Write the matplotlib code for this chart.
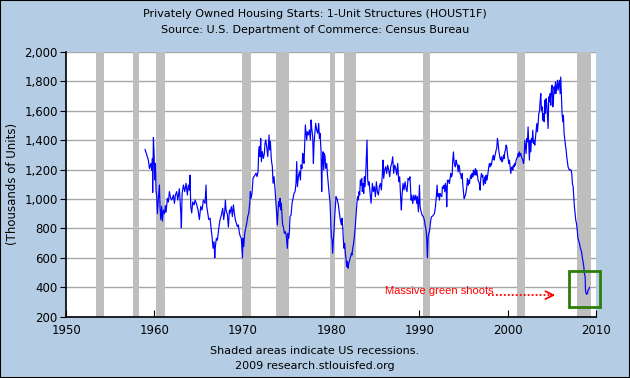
import numpy as np
import matplotlib
matplotlib.use("Agg")
import matplotlib.pyplot as plt
from matplotlib.patches import Rectangle

# decimal years and housing starts (thousands of units)
years = [
    1958.94, 1959.13, 1959.31, 1959.43, 1959.58, 1959.69, 1959.77, 1959.80, 1959.88, 1959.96,
    1960.03, 1960.11, 1960.18, 1960.26, 1960.33, 1960.45, 1960.56, 1960.63, 1960.71, 1960.82,
    1960.90, 1961.01, 1961.13, 1961.24, 1961.31, 1961.47, 1961.58, 1961.69, 1961.84, 1961.96,
    1962.15, 1962.26, 1962.37, 1962.52, 1962.64, 1962.82, 1962.98, 1963.05, 1963.13, 1963.28,
    1963.43, 1963.58, 1963.73, 1963.84, 1963.96, 1964.03, 1964.11, 1964.22, 1964.33, 1964.49,
    1964.60, 1964.79, 1964.94, 1965.09, 1965.24, 1965.39, 1965.54, 1965.73, 1965.84, 1965.92,
    1966.03, 1966.15, 1966.30, 1966.41, 1966.52, 1966.64, 1966.75, 1966.83, 1966.90, 1967.01,
    1967.13, 1967.28, 1967.43, 1967.58, 1967.73, 1967.84, 1967.96, 1968.03, 1968.11, 1968.26,
    1968.37, 1968.49, 1968.56, 1968.71, 1968.82, 1968.94, 1969.05, 1969.16, 1969.28, 1969.39,
    1969.50, 1969.62, 1969.73, 1969.84, 1969.96, 1970.03, 1970.11, 1970.22, 1970.33, 1970.45,
    1970.56, 1970.67, 1970.79, 1970.86, 1970.94, 1971.05, 1971.16, 1971.28, 1971.39, 1971.50,
    1971.62, 1971.73, 1971.81, 1971.88, 1971.96, 1972.03, 1972.11, 1972.22, 1972.34, 1972.45,
    1972.52, 1972.60, 1972.71, 1972.83, 1972.90, 1972.98, 1973.05, 1973.13, 1973.24, 1973.35,
    1973.43, 1973.54, 1973.66, 1973.77, 1973.85, 1973.92, 1974.00, 1974.07, 1974.15, 1974.22,
    1974.30, 1974.37, 1974.45, 1974.52, 1974.60, 1974.71, 1974.83, 1974.94, 1975.05, 1975.13,
    1975.20, 1975.28, 1975.35, 1975.47, 1975.58, 1975.69, 1975.81, 1975.92, 1976.03, 1976.11,
    1976.19, 1976.30, 1976.41, 1976.53, 1976.60, 1976.71, 1976.79, 1976.87, 1976.94, 1977.02,
    1977.09, 1977.17, 1977.24, 1977.32, 1977.43, 1977.54, 1977.66, 1977.73, 1977.81, 1977.92,
    1978.00, 1978.07, 1978.19, 1978.26, 1978.37, 1978.49, 1978.60, 1978.68, 1978.75, 1978.86,
    1978.94, 1979.01, 1979.09, 1979.17, 1979.24, 1979.32, 1979.39, 1979.51, 1979.58, 1979.69,
    1979.81, 1979.88, 1979.96, 1980.03, 1980.11, 1980.18, 1980.26, 1980.34, 1980.41, 1980.49,
    1980.56, 1980.64, 1980.71, 1980.83, 1980.94, 1981.05, 1981.17, 1981.24, 1981.32, 1981.39,
    1981.47, 1981.54, 1981.62, 1981.69, 1981.77, 1981.85, 1981.92, 1982.00, 1982.07, 1982.15,
    1982.22, 1982.30, 1982.37, 1982.45, 1982.53, 1982.64, 1982.71, 1982.79, 1982.86, 1982.94,
    1983.02, 1983.09, 1983.17, 1983.24, 1983.32, 1983.39, 1983.47, 1983.54, 1983.62, 1983.70,
    1983.77, 1983.85, 1983.92, 1984.00, 1984.07, 1984.15, 1984.22, 1984.30, 1984.41, 1984.53,
    1984.60, 1984.68, 1984.79, 1984.90, 1985.02, 1985.13, 1985.24, 1985.36, 1985.47, 1985.58,
    1985.70, 1985.81, 1985.88, 1985.96, 1986.07, 1986.19, 1986.30, 1986.41, 1986.53, 1986.64,
    1986.75, 1986.87, 1986.98, 1987.09, 1987.21, 1987.32, 1987.43, 1987.55, 1987.66, 1987.77,
    1987.89, 1987.96, 1988.04, 1988.15, 1988.26, 1988.38, 1988.49, 1988.60, 1988.72, 1988.83,
    1988.94, 1989.06, 1989.14, 1989.25, 1989.37, 1989.48, 1989.59, 1989.71, 1989.78, 1989.89,
    1990.01, 1990.08, 1990.20, 1990.31, 1990.46, 1990.57, 1990.65, 1990.76, 1990.84, 1990.91,
    1990.99, 1991.06, 1991.14, 1991.22, 1991.29, 1991.37, 1991.48, 1991.59, 1991.71, 1991.82,
    1991.93, 1992.01, 1992.08, 1992.20, 1992.27, 1992.35, 1992.42, 1992.54, 1992.61, 1992.73,
    1992.80, 1992.88, 1992.95, 1993.03, 1993.10, 1993.18, 1993.25, 1993.33, 1993.40, 1993.48,
    1993.56, 1993.63, 1993.71, 1993.78, 1993.86, 1993.93, 1994.01, 1994.08, 1994.16, 1994.24,
    1994.31, 1994.39, 1994.46, 1994.54, 1994.61, 1994.69, 1994.76, 1994.84, 1994.91, 1994.99,
    1995.07, 1995.14, 1995.22, 1995.29, 1995.37, 1995.44, 1995.52, 1995.59, 1995.67, 1995.74,
    1995.82, 1995.90, 1995.97, 1996.05, 1996.12, 1996.20, 1996.27, 1996.35, 1996.42, 1996.50,
    1996.58, 1996.65, 1996.73, 1996.80, 1996.88, 1996.95, 1997.03, 1997.10, 1997.18, 1997.26,
    1997.33, 1997.41, 1997.48, 1997.56, 1997.63, 1997.71, 1997.78, 1997.86, 1997.93, 1998.01,
    1998.09, 1998.16, 1998.24, 1998.31, 1998.39, 1998.46, 1998.54, 1998.61, 1998.69, 1998.76,
    1998.84, 1998.92, 1998.99, 1999.07, 1999.14, 1999.22, 1999.29, 1999.37, 1999.44, 1999.52,
    1999.60, 1999.67, 1999.75, 1999.82, 1999.90, 1999.97, 2000.05, 2000.12, 2000.20, 2000.27,
    2000.35, 2000.43, 2000.50, 2000.58, 2000.65, 2000.73, 2000.80, 2000.88, 2000.95, 2001.03,
    2001.11, 2001.18, 2001.26, 2001.33, 2001.41, 2001.48, 2001.56, 2001.63, 2001.71, 2001.79,
    2001.86, 2001.94, 2002.01, 2002.09, 2002.16, 2002.24, 2002.31, 2002.39, 2002.46, 2002.54,
    2002.62, 2002.69, 2002.77, 2002.84, 2002.92, 2002.99, 2003.07, 2003.14, 2003.22, 2003.30,
    2003.37, 2003.45, 2003.52, 2003.60, 2003.67, 2003.75, 2003.82, 2003.90, 2003.97, 2004.05,
    2004.13, 2004.20, 2004.28, 2004.35, 2004.43, 2004.50, 2004.58, 2004.65, 2004.73, 2004.81,
    2004.88, 2004.96, 2005.03, 2005.11, 2005.18, 2005.26, 2005.33, 2005.41, 2005.48, 2005.56,
    2005.64, 2005.71, 2005.79, 2005.86, 2005.94, 2006.01, 2006.09, 2006.16, 2006.24, 2006.31,
    2006.39, 2006.47, 2006.54, 2006.62, 2006.69, 2006.77, 2006.84, 2006.92, 2006.99, 2007.07,
    2007.18, 2007.26, 2007.33, 2007.41, 2007.49, 2007.56, 2007.64, 2007.71, 2007.79, 2007.86,
    2007.94, 2008.01, 2008.09, 2008.16, 2008.24, 2008.32, 2008.39, 2008.47, 2008.54, 2008.62,
    2008.69, 2008.77, 2008.81, 2008.88, 2008.96, 2009.03, 2009.11, 2009.18, 2009.26,
]
starts = [
    1336, 1298, 1264, 1207, 1241, 1195, 1275, 1045, 1418, 1309,
    1130, 1241, 1056, 1015, 900, 1008, 1095, 950, 860, 950,
    850, 925, 900, 955, 910, 1005, 980, 1050, 1005, 993,
    1027, 970, 1027, 1050, 993, 1070, 910, 804, 1039, 1095,
    1050, 1107, 1027, 1095, 1060, 1162, 950, 905, 980, 960,
    993, 960, 925, 860, 950, 925, 993, 970, 1095, 950,
    905, 860, 870, 800, 745, 665, 710, 600, 678, 733,
    720, 800, 860, 893, 937, 860, 915, 993, 925, 893,
    809, 925, 903, 948, 880, 960, 903, 858, 835, 812,
    824, 767, 745, 733, 600, 733, 677, 767, 801, 835,
    880, 903, 971, 1050, 1005, 1039, 1141, 1152, 1163, 1175,
    1152, 1186, 1333, 1356, 1288, 1412, 1254, 1322, 1276, 1310,
    1378, 1401, 1356, 1288, 1356, 1435, 1333, 1390, 1265, 1220,
    1107, 1152, 1061, 960, 880, 824, 926, 982, 948, 1005,
    926, 971, 880, 824, 812, 767, 778, 745, 665, 767,
    733, 778, 880, 892, 971, 1005, 1039, 1050, 1107, 1254,
    1084, 1152, 1186, 1129, 1231, 1208, 1310, 1265, 1242, 1378,
    1503, 1446, 1401, 1457, 1435, 1469, 1401, 1537, 1480, 1423,
    1242, 1378, 1469, 1514, 1469, 1446, 1514, 1412, 1446, 1332,
    1050, 1264, 1321, 1197, 1310, 1287, 1208, 1242, 1174, 1095,
    1016, 982, 858, 745, 722, 632, 722, 790, 880, 948,
    1016, 1005, 993, 959, 903, 858, 824, 869, 812, 722,
    665, 699, 632, 598, 541, 575, 530, 564, 575, 598,
    609, 632, 620, 665, 688, 745, 790, 858, 925, 982,
    1016, 993, 1050, 1027, 1129, 1095, 1140, 1050, 1106, 1038,
    1151, 1084, 1163, 1298, 1400, 1129, 1095, 1117, 1050, 971,
    1038, 1106, 1050, 1084, 1016, 1117, 1050, 1027, 1084, 1106,
    1061, 1174, 1264, 1140, 1197, 1219, 1174, 1230, 1197, 1151,
    1219, 1242, 1287, 1174, 1230, 1208, 1163, 1242, 1117, 1151,
    993, 925, 1027, 1106, 1061, 1117, 1072, 1050, 1140, 1129,
    1151, 992, 1026, 969, 1026, 992, 1026, 969, 1015, 913,
    1094, 947, 913, 890, 879, 856, 822, 788, 721, 600,
    743, 766, 777, 822, 856, 879, 883, 890, 902, 947,
    1026, 1094, 1015, 1037, 992, 1037, 1026, 1015, 1083, 1071,
    1094, 1049, 1105, 1083, 947, 1128, 1117, 1128, 1105, 1139,
    1173, 1150, 1162, 1264, 1320, 1252, 1230, 1218, 1264, 1241,
    1230, 1184, 1230, 1218, 1173, 1162, 1139, 1173, 1105, 1049,
    1003, 1015, 1026, 1049, 1083, 1139, 1094, 1128, 1105, 1139,
    1162, 1139, 1173, 1150, 1196, 1162, 1184, 1207, 1162, 1196,
    1162, 1128, 1117, 1105, 1060, 1139, 1173, 1150, 1162, 1094,
    1117, 1150, 1105, 1162, 1128, 1150, 1184, 1218, 1241, 1218,
    1241, 1230, 1264, 1286, 1298, 1264, 1286, 1309, 1332, 1343,
    1411, 1377, 1332, 1298, 1275, 1264, 1286, 1252, 1264, 1298,
    1275, 1320, 1332, 1366, 1354, 1309, 1275, 1241, 1264, 1218,
    1173, 1207, 1218, 1196, 1230, 1218, 1241, 1230, 1264, 1275,
    1286, 1309, 1286, 1320, 1298, 1309, 1286, 1275, 1264, 1241,
    1275, 1399, 1354, 1309, 1411, 1388, 1490, 1377, 1264, 1399,
    1320, 1411, 1388, 1467, 1377, 1399, 1366, 1411, 1456, 1513,
    1456, 1513, 1580, 1592, 1660, 1716, 1603, 1626, 1535, 1580,
    1524, 1671, 1580, 1682, 1648, 1569, 1479, 1694, 1660, 1716,
    1637, 1750, 1773, 1626, 1671, 1762, 1716, 1795, 1716, 1762,
    1807, 1739, 1773, 1807, 1716, 1829, 1694, 1580, 1524, 1569,
    1445, 1399, 1366, 1332, 1286, 1252, 1218, 1207, 1196, 1200,
    1196, 1173, 1105, 1083, 1015, 947, 902, 856, 834, 800,
    743, 721, 709, 687, 664, 653, 630, 596, 573, 540,
    494, 472, 381, 358, 352, 358, 381, 386, 399,
]

# NBER recessions (start, end) as shaded on the chart
rec_start = [1953.4, 1957.6, 1960.2, 1969.95, 1973.8, 1979.9, 1981.5, 1990.4, 2001.1, 2007.85]
rec_end = [1954.3, 1958.3, 1961.2, 1970.9, 1975.2, 1980.5, 1982.8, 1991.2, 2001.95, 2009.45]

xticks = [1950, 1960, 1970, 1980, 1990, 2000, 2010]
yticks = [200, 400, 600, 800, 1000, 1200, 1400, 1600, 1800, 2000]

BG = "#B4CDE4"

fig = plt.figure(figsize=(6.3, 3.78), dpi=100, facecolor=BG)
fig.patches.append(Rectangle((0, 0), 1, 1, transform=fig.transFigure, fill=False,
                             edgecolor="black", linewidth=1.5))
ax = fig.add_axes([0.105, 0.162, 0.841, 0.701])
ax.set_facecolor("white")

ax.set_xlim(1950, 2010)
ax.set_ylim(200, 2000)
ax.set_yticks(yticks)
ax.set_yticklabels([f"{v:,}" for v in yticks])
ax.set_xticks(xticks)

ax.yaxis.grid(True, color="#A8A8A8", linewidth=1.0, zorder=0)
ax.set_axisbelow(True)
for s, e in zip(rec_start, rec_end):
    ax.axvspan(s, e, color="#BEBEBE", linewidth=0, zorder=1)

ax.plot(years, starts, color="#0000FF", linewidth=0.85, zorder=3)

for side in ["top", "right"]:
    ax.spines[side].set_visible(False)
for side in ["left", "bottom"]:
    ax.spines[side].set_color("black")
    ax.spines[side].set_linewidth(1.2)
ax.tick_params(axis="y", direction="out", length=4, labelsize=8.5, pad=2)
ax.tick_params(axis="x", direction="in", length=5, labelsize=8.5, pad=5)

ax.set_ylabel("(Thousands of Units)", fontsize=8.5, labelpad=4)

fig.text(0.5, 0.962, "Privately Owned Housing Starts: 1-Unit Structures (HOUST1F)",
         ha="center", va="center", fontsize=8)
fig.text(0.5, 0.92, "Source: U.S. Department of Commerce: Census Bureau",
         ha="center", va="center", fontsize=8)
fig.text(0.5, 0.071, "Shaded areas indicate US recessions.",
         ha="center", va="center", fontsize=8)
fig.text(0.5, 0.033, "2009 research.stlouisfed.org",
         ha="center", va="center", fontsize=8)

# annotation
ax.text(1986.1, 372, "Massive green shoots", color="red", fontsize=8,
        family="Liberation Sans", ha="left", va="center")
ax.plot([1997.8, 2005.4], [347, 347], linestyle=(0, (1, 1.2)), color="red", linewidth=1.3)
ax.annotate("", xy=(2005.7, 347), xytext=(2004.6, 347),
            arrowprops=dict(arrowstyle="->", color="red", lw=1.3, mutation_scale=14))
ax.add_patch(Rectangle((2007.0, 268), 3.45, 245, fill=False, edgecolor="#2E7D0A",
                       linewidth=2, clip_on=False, zorder=4))

fig.savefig("out.png", dpi=100, facecolor=BG)
